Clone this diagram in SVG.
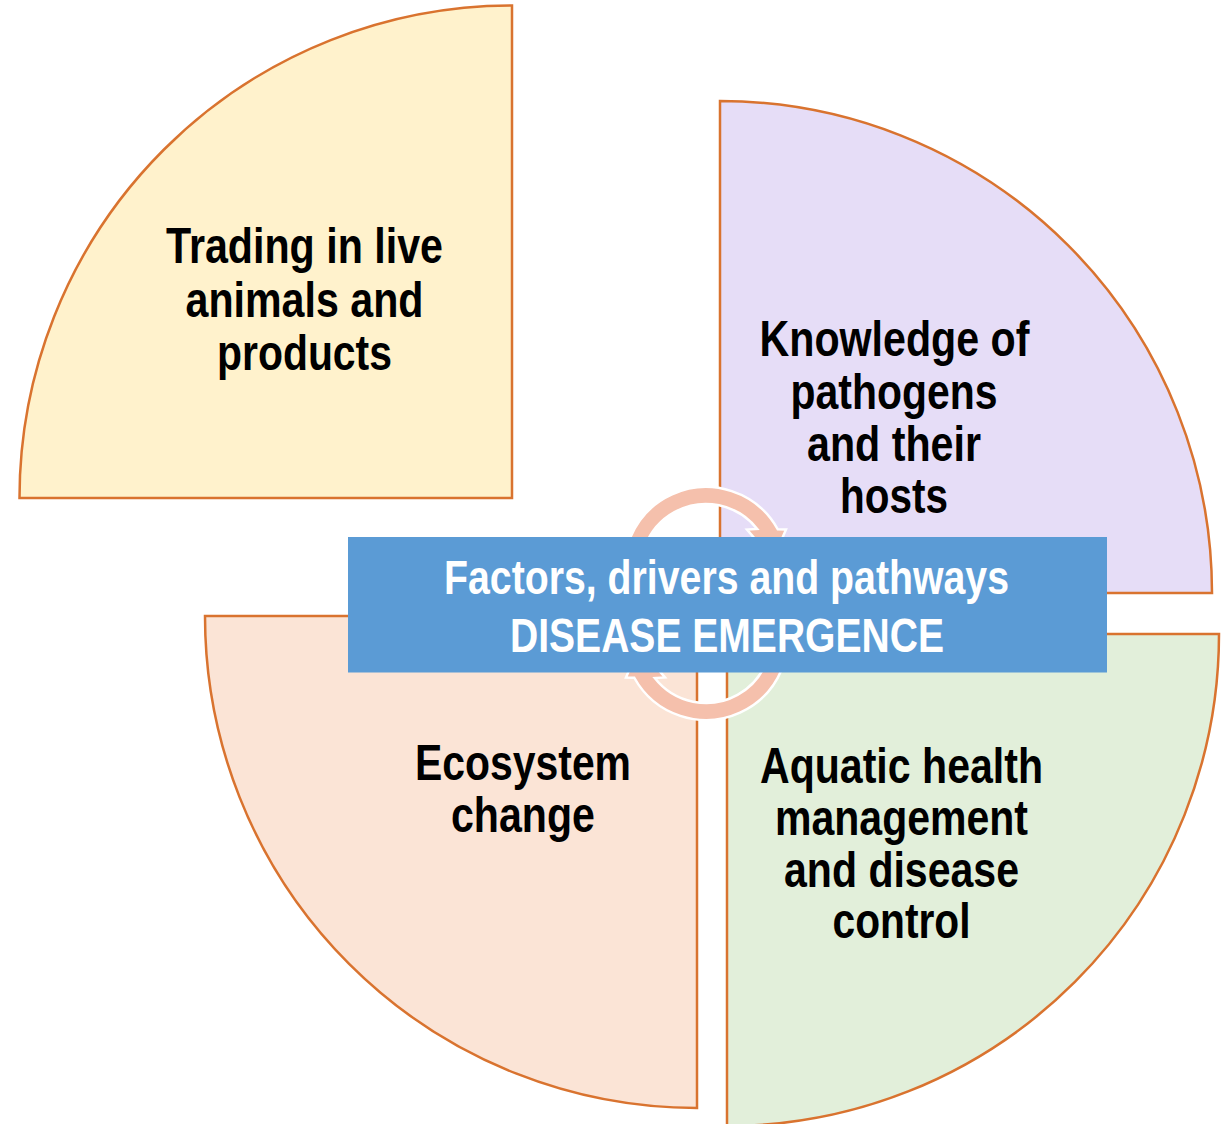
<svg xmlns="http://www.w3.org/2000/svg" xmlns:xlink="http://www.w3.org/1999/xlink" width="1223" height="1124" viewBox="0 0 1223 1124">
  <defs>
    <style>
      .quad { stroke: #D9732F; stroke-width: 2.5; stroke-linejoin: miter; }
      .label { font-family: "Liberation Sans Narrow", "Liberation Sans", Arial, sans-serif; font-weight: bold; font-size: 50px; fill: #000; text-anchor: middle; }
      .title { font-family: "Liberation Sans Narrow", "Liberation Sans", Arial, sans-serif; font-weight: bold; font-size: 48px; fill: #fff; text-anchor: middle; }
      .cyc { fill: #F5C0AC; stroke: #fff; stroke-width: 2.5; stroke-linejoin: miter; }
    </style>
    <!-- clockwise circular arrow over the top half; the lower one is this rotated 180 degrees -->
    <path id="cycleArrow" class="cyc" d="M628.95,597.05 A82,82 0 0 1 777.72,529.25 L786,529.5 L773,560 L747,529.5 L757.22,528.98 A65,65 0 0 0 644.92,591.23 Z"/>
  </defs>

  <rect width="1223" height="1124" fill="#fff"/>

  <!-- quadrant: trading -->
  <g id="node-trading">
    <path class="quad" fill="#FFF2CC" d="M512,498 L19.5,498 A492.5,492.5 0 0 1 512,5.5 Z"/>
    <text class="label" x="304.5" y="263" textLength="277" lengthAdjust="spacingAndGlyphs">Trading in live</text>
    <text class="label" x="304.5" y="317" textLength="238" lengthAdjust="spacingAndGlyphs">animals and</text>
    <text class="label" x="304.5" y="370" textLength="175" lengthAdjust="spacingAndGlyphs">products</text>
  </g>

  <!-- quadrant: knowledge -->
  <g id="node-knowledge">
    <path class="quad" fill="#E6DDF7" d="M720,593 L720,101 A492,492 0 0 1 1212,593 Z"/>
    <text class="label" x="894.5" y="356" textLength="270" lengthAdjust="spacingAndGlyphs">Knowledge of</text>
    <text class="label" x="894" y="408.5" textLength="207" lengthAdjust="spacingAndGlyphs">pathogens</text>
    <text class="label" x="894" y="461" textLength="174" lengthAdjust="spacingAndGlyphs">and their</text>
    <text class="label" x="894" y="513" textLength="108" lengthAdjust="spacingAndGlyphs">hosts</text>
  </g>

  <!-- quadrant: ecosystem -->
  <g id="node-ecosystem">
    <path class="quad" fill="#FBE4D6" d="M697,616 L697,1108 A492,492 0 0 1 205,616 Z"/>
    <text class="label" x="523" y="780" textLength="216" lengthAdjust="spacingAndGlyphs">Ecosystem</text>
    <text class="label" x="523" y="832" textLength="144" lengthAdjust="spacingAndGlyphs">change</text>
  </g>

  <!-- quadrant: aquatic health -->
  <g id="node-aquatic">
    <path class="quad" fill="#E2EFDA" d="M727,634 L1219,634 A492,492 0 0 1 727,1126 Z"/>
    <text class="label" x="901.5" y="783" textLength="283" lengthAdjust="spacingAndGlyphs">Aquatic health</text>
    <text class="label" x="901.5" y="835" textLength="253" lengthAdjust="spacingAndGlyphs">management</text>
    <text class="label" x="901.5" y="887" textLength="235" lengthAdjust="spacingAndGlyphs">and disease</text>
    <text class="label" x="901.5" y="938" textLength="138" lengthAdjust="spacingAndGlyphs">control</text>
  </g>

  <!-- cycle arrows in the middle -->
  <g id="connectors">
    <use xlink:href="#cycleArrow"/>
    <use xlink:href="#cycleArrow" transform="rotate(180 706 603.5)"/>
  </g>

  <!-- central banner -->
  <g id="node-center">
    <rect x="348" y="537" width="759" height="135.5" fill="#5B9BD5"/>
    <text class="title" x="726.5" y="594" textLength="565" lengthAdjust="spacingAndGlyphs">Factors, drivers and pathways</text>
    <text class="title" x="727" y="652" textLength="434" lengthAdjust="spacingAndGlyphs">DISEASE EMERGENCE</text>
  </g>
</svg>
